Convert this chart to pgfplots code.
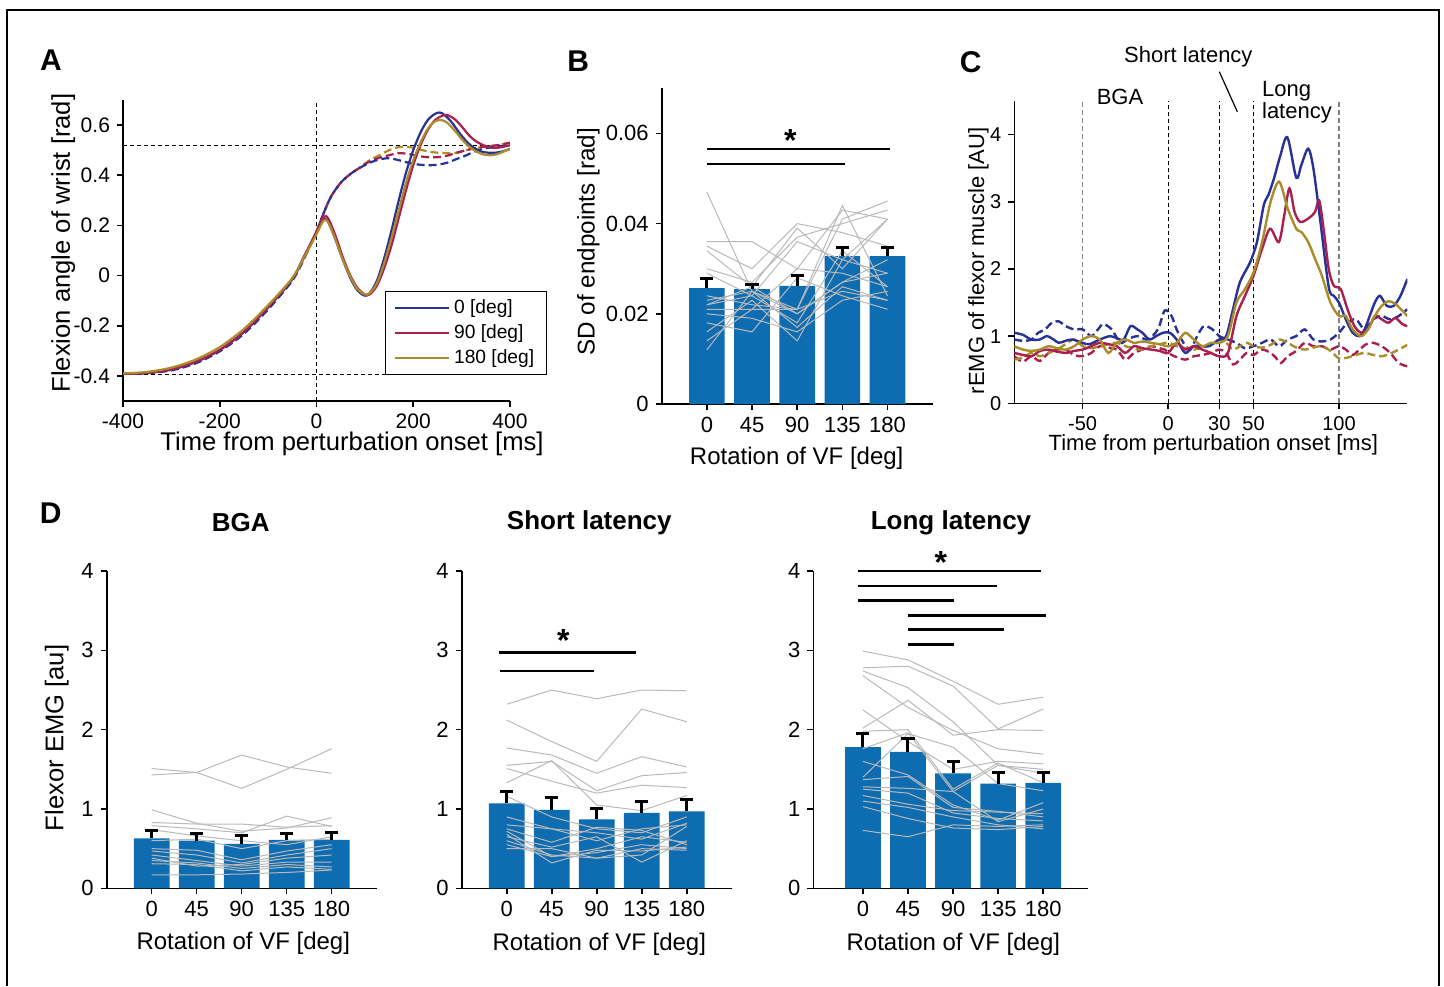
\documentclass[border=0pt]{standalone}
\usepackage{fontspec}
\setmainfont{Liberation Sans}
\usepackage{pgfplots}
\pgfplotsset{compat=1.18}

\definecolor{barblue}{RGB}{14,108,176}
\definecolor{cblue}{RGB}{40,50,150}
\definecolor{cred}{RGB}{170,30,80}
\definecolor{cgold}{RGB}{170,140,40}
\definecolor{subjgray}{RGB}{185,185,185}

\newcommand{\fs}[1]{\fontsize{#1}{#1}\selectfont}
% one grey line per subject
\newcommand{\subj}[5]{\addplot[subjgray, line width=0.5pt, no markers] coordinates {(0,#1)(1,#2)(2,#3)(3,#4)(4,#5)};}
% error bar: x, bar top, error top, cap left, cap right
\newcommand{\ebar}[5]{%
  \addplot[black, line width=1.5pt, no markers, forget plot] coordinates {(#1,#2)(#1,#3)};
  \addplot[black, line width=1.5pt, no markers, forget plot] coordinates {(#4,#3)(#5,#3)};}

\pgfplotsset{
  panel/.style={
    scale only axis, anchor=south west,
    axis x line*=bottom, axis y line*=left,
    axis line style={line width=0.8pt, black, -},
    tick align=outside, major tick length=3pt,
    tick style={line width=0.8pt, black},
    tick label style={font=\fs{11}},
    scaled y ticks=false, scaled x ticks=false,
  },
  barpanel/.style={panel, xmin=-1, xmax=5, xtick={0,...,4},
    xticklabels={0,45,90,135,180}, clip=false},
  bars/.style={ybar, bar width=17.85pt, fill=barblue, draw=none},
  sig/.style={black, line width=1.3pt, no markers},
  refl/.style={black, line width=0.5pt, dash pattern=on 2pt off 1.5pt, no markers, forget plot},
}

\begin{document}
\begin{tikzpicture}
\useasboundingbox (0pt,0pt) rectangle (722pt,-493pt);
\draw[line width=0.6pt] (3.5pt,-493pt) -- (3.5pt,-5pt) -- (719.5pt,-5pt) -- (719.5pt,-493pt);

% ---------------- A ----------------
\begin{axis}[panel, at={(61.5pt,-200.5pt)}, width=193.5pt, height=150.5pt,
  xmin=-400, xmax=400, ymin=-0.5, ymax=0.7,
  xtick={-400,-200,0,200,400}, xticklabels={-400,-200,0,200,400},
  ytick={-0.4,-0.2,0,0.2,0.4,0.6}, yticklabels={-0.4,-0.2,0,0.2,0.4,0.6},
  tick label style={font=\fs{10.5}},
  legend style={at={(1.095,0.086)}, anchor=south east, draw=black, line width=0.6pt,
    font=\fs{9.6}, inner xsep=4pt, inner ysep=2pt, row sep=0pt},
  legend cell align=left,
  legend image code/.code={\draw[#1, line width=1.1pt] (0pt,0pt) -- (27pt,0pt);},
  every axis plot/.append style={line width=1.1pt},
]
\addplot[refl] coordinates {(-400,-0.395)(400,-0.395)};
\addplot[refl] coordinates {(-400,0.52)(400,0.52)};
\addplot[refl] coordinates {(0,-0.5)(0,0.7)};
% dashed (no perturbation)
\addplot[cgold, dash pattern=on 4pt off 2pt, smooth, forget plot] coordinates {(0,0.175)(15,0.25)(30,0.315)(50,0.37)(70,0.405)(90,0.432)(110,0.46)(130,0.48)(150,0.5)(170,0.512)(190,0.513)(210,0.505)(230,0.495)(250,0.49)(270,0.488)(290,0.49)(310,0.5)(330,0.508)(350,0.515)(375,0.52)(400,0.53)};
\addplot[cred, dash pattern=on 4pt off 2pt, smooth, forget plot] coordinates {(0,0.175)(15,0.25)(30,0.315)(50,0.37)(70,0.405)(90,0.43)(110,0.455)(130,0.47)(150,0.48)(170,0.488)(190,0.485)(210,0.477)(230,0.472)(250,0.472)(270,0.478)(290,0.49)(310,0.5)(330,0.51)(350,0.515)(375,0.52)(400,0.53)};
\addplot[cblue, dash pattern=on 4pt off 2pt, smooth, forget plot] coordinates {(-400,-0.392)(-350,-0.389)(-300,-0.378)(-250,-0.35)(-200,-0.302)(-150,-0.232)(-100,-0.135)(-50,-0.02)(-25,0.07)(0,0.175)(15,0.25)(30,0.315)(50,0.37)(70,0.405)(90,0.43)(110,0.45)(130,0.463)(150,0.468)(170,0.46)(190,0.45)(210,0.443)(230,0.44)(250,0.442)(270,0.45)(290,0.465)(310,0.48)(330,0.497)(350,0.508)(375,0.515)(400,0.52)};
% solid (perturbed)
\addplot[cblue, smooth] coordinates {(-400,-0.392)(-350,-0.388)(-300,-0.375)(-250,-0.345)(-200,-0.297)(-150,-0.225)(-100,-0.127)(-50,-0.015)(-25,0.075)(0,0.17)(15,0.225)(25,0.21)(40,0.14)(55,0.06)(70,-0.01)(85,-0.06)(100,-0.08)(110,-0.07)(125,-0.02)(140,0.07)(155,0.18)(170,0.3)(185,0.41)(200,0.5)(215,0.57)(230,0.62)(245,0.645)(255,0.65)(265,0.64)(280,0.61)(295,0.57)(310,0.535)(325,0.51)(340,0.495)(355,0.49)(370,0.49)(385,0.495)(400,0.505)};
\addlegendentry{0 [deg]}
\addplot[cred, smooth] coordinates {(-400,-0.392)(-350,-0.388)(-300,-0.374)(-250,-0.344)(-200,-0.296)(-150,-0.224)(-100,-0.126)(-50,-0.012)(-25,0.08)(0,0.175)(15,0.235)(25,0.225)(40,0.155)(55,0.07)(70,0.0)(85,-0.05)(100,-0.075)(110,-0.075)(125,-0.04)(140,0.03)(155,0.12)(170,0.23)(185,0.34)(200,0.44)(215,0.52)(230,0.58)(245,0.62)(260,0.637)(270,0.64)(285,0.625)(300,0.595)(315,0.56)(330,0.535)(345,0.52)(360,0.51)(375,0.51)(390,0.515)(400,0.52)};
\addlegendentry{90 [deg]}
\addplot[cgold, smooth] coordinates {(-400,-0.39)(-350,-0.384)(-300,-0.367)(-250,-0.335)(-200,-0.285)(-150,-0.213)(-100,-0.118)(-50,-0.01)(-25,0.075)(0,0.165)(15,0.22)(25,0.21)(40,0.14)(55,0.06)(70,-0.005)(85,-0.055)(100,-0.075)(110,-0.07)(125,-0.03)(140,0.05)(155,0.15)(170,0.26)(185,0.37)(200,0.46)(215,0.53)(230,0.585)(245,0.615)(258,0.62)(270,0.61)(285,0.58)(300,0.545)(315,0.515)(330,0.495)(345,0.483)(360,0.48)(375,0.485)(390,0.497)(400,0.505)};
\addlegendentry{180 [deg]}
\end{axis}

% ---------------- B ----------------
\begin{axis}[barpanel, at={(330.85pt,-202pt)}, width=135.5pt, height=157.85pt,
  ymin=0, ymax=0.07, ytick={0,0.02,0.04,0.06}, yticklabels={0,0.02,0.04,0.06}]
\addplot[bars] coordinates {(0,0.0257)(1,0.0255)(2,0.0262)(3,0.0328)(4,0.0328)};
\subj{0.047}{0.025}{0.021}{0.041}{0.045}
\subj{0.036}{0.036}{0.030}{0.043}{0.041}
\subj{0.035}{0.030}{0.040}{0.038}{0.035}
\subj{0.034}{0.026}{0.039}{0.030}{0.041}
\subj{0.030}{0.027}{0.037}{0.040}{0.043}
\subj{0.029}{0.024}{0.036}{0.032}{0.029}
\subj{0.024}{0.022}{0.021}{0.044}{0.024}
\subj{0.023}{0.025}{0.020}{0.027}{0.032}
\subj{0.022}{0.024}{0.018}{0.034}{0.026}
\subj{0.021}{0.021}{0.021}{0.025}{0.023}
\subj{0.020}{0.019}{0.016}{0.023}{0.025}
\subj{0.018}{0.016}{0.028}{0.024}{0.021}
\subj{0.016}{0.023}{0.014}{0.032}{0.041}
\subj{0.014}{0.021}{0.030}{0.029}{0.026}
\subj{0.012}{0.025}{0.017}{0.026}{0.023}
\subj{0.022}{0.026}{0.020}{0.027}{0.029}
\ebar{0}{0.0257}{0.0279}{-0.145}{0.145}
\ebar{1}{0.0255}{0.0266}{0.855}{1.145}
\ebar{2}{0.0262}{0.0284}{1.855}{2.145}
\ebar{3}{0.0328}{0.0347}{2.855}{3.145}
\ebar{4}{0.0328}{0.0348}{3.855}{4.145}
\addplot[sig] coordinates {(0,0.0565)(4.05,0.0565)};
\addplot[sig] coordinates {(0,0.0532)(3.05,0.0532)};
\node[font=\bfseries\fs{16}] at (axis cs:1.85,0.0585) {*};
\end{axis}

% ---------------- C ----------------
\begin{axis}[panel, at={(507.15pt,-201.65pt)}, width=196.5pt, height=151.15pt,
  xmin=-90, xmax=140, ymin=0, ymax=4.5,
  xtick={-50,0,30,50,100}, xticklabels={-50,0,30,50,100},
  ytick={0,1,2,3,4}, yticklabels={0,1,2,3,4},
  tick label style={font=\fs{10}},
  every axis plot/.append style={line width=1.2pt, no markers},
]
\addplot[gray, line width=0.7pt, dash pattern=on 2.5pt off 1.5pt] coordinates {(-50,0)(-50,4.5)};
\addplot[gray, line width=0.7pt, dash pattern=on 2.5pt off 1.5pt] coordinates {(100,0)(100,4.5)};
\addplot[refl] coordinates {(0,0)(0,4.5)};
\addplot[refl] coordinates {(30,0)(30,4.5)};
\addplot[refl] coordinates {(50,0)(50,4.5)};
% dashed traces
\addplot[cblue, dash pattern=on 4pt off 2pt, smooth] coordinates {(-90,0.95)(-85,0.93)(-80,0.95)(-76,1.05)(-72,1.1)(-68,1.2)(-64,1.22)(-60,1.15)(-55,1.1)(-50,1.1)(-45,1.0)(-41,1.1)(-38,1.18)(-33,1.1)(-28,0.9)(-24,0.95)(-18,1.0)(-12,0.95)(-6,1.1)(-2,1.38)(2,1.3)(5,1.1)(9,0.9)(13,0.8)(17,1.0)(21,1.15)(26,1.1)(30,1.0)(35,0.95)(40,0.9)(45,0.82)(50,0.85)(55,0.9)(60,0.95)(65,0.85)(70,0.95)(75,1.0)(80,1.1)(85,0.95)(90,0.92)(95,0.95)(100,1.05)(105,1.2)(110,1.25)(115,1.1)(120,1.25)(125,1.3)(130,1.25)(135,1.3)(140,1.4)};
\addplot[cred, dash pattern=on 4pt off 2pt, smooth] coordinates {(-90,0.7)(-85,0.62)(-80,0.7)(-75,0.63)(-70,0.75)(-65,0.8)(-60,0.8)(-55,0.72)(-50,0.7)(-45,0.75)(-40,0.85)(-35,0.83)(-30,0.8)(-25,0.65)(-20,0.75)(-15,0.8)(-10,0.85)(-5,0.82)(-2,0.8)(2,0.72)(6,0.68)(10,0.65)(15,0.7)(20,0.72)(25,0.75)(30,0.8)(34,0.75)(38,0.58)(42,0.65)(46,0.75)(50,0.72)(55,0.8)(60,0.75)(63,0.68)(66,0.6)(70,0.7)(75,0.78)(80,0.9)(85,0.85)(90,0.85)(95,0.8)(100,0.85)(104,0.8)(108,0.72)(112,0.8)(116,0.88)(120,0.9)(125,0.85)(130,0.75)(135,0.6)(140,0.55)};
\addplot[cgold, dash pattern=on 4pt off 2pt, smooth] coordinates {(-90,0.65)(-85,0.68)(-80,0.75)(-75,0.7)(-70,0.75)(-65,0.8)(-60,0.88)(-55,0.95)(-50,0.85)(-45,0.82)(-40,0.85)(-35,0.88)(-30,0.9)(-25,0.85)(-20,0.82)(-15,0.8)(-10,0.85)(-5,0.88)(0,0.9)(5,0.85)(10,0.82)(15,0.8)(20,0.83)(25,0.87)(30,0.95)(34,0.9)(38,0.8)(42,0.85)(46,0.9)(50,0.85)(55,0.83)(60,0.87)(65,0.95)(70,0.9)(75,0.83)(80,0.8)(85,0.83)(90,0.85)(95,0.78)(100,0.67)(105,0.68)(110,0.72)(115,0.75)(120,0.72)(125,0.7)(130,0.74)(135,0.8)(140,0.87)};
% solid traces
\addplot[cblue, smooth] coordinates {(-90,1.05)(-85,1.02)(-80,0.95)(-75,0.95)(-71,1.0)(-67,0.95)(-64,0.9)(-60,0.93)(-56,0.95)(-50,0.9)(-46,0.88)(-40,0.95)(-34,1.0)(-30,0.97)(-26,0.95)(-22,1.15)(-18,1.1)(-15,1.05)(-11,0.95)(-7,1.0)(-3,1.05)(1,1.05)(5,0.95)(10,0.75)(15,0.85)(20,0.85)(24,0.85)(30,0.95)(34,1.0)(38,1.4)(42,1.8)(48,2.1)(52,2.4)(56,2.95)(58.7,3.1)(62,3.35)(65.5,3.67)(69.8,3.96)(75,3.36)(78,3.55)(82,3.79)(85,3.5)(89,2.73)(94,1.73)(97,1.6)(100,1.5)(104,1.25)(108,1.05)(112,1.0)(115,1.1)(118,1.3)(121,1.5)(124,1.6)(128,1.45)(132,1.45)(136,1.6)(140,1.85)};
\addplot[cred, smooth] coordinates {(-90,0.75)(-85,0.72)(-80,0.7)(-75,0.78)(-70,0.8)(-65,0.77)(-60,0.75)(-55,0.78)(-50,0.8)(-45,0.85)(-40,0.9)(-35,0.88)(-30,0.85)(-25,0.75)(-20,0.85)(-15,0.82)(-10,0.8)(-5,0.78)(0,0.75)(5,0.9)(10,0.8)(15,0.85)(20,0.8)(25,0.75)(30,0.7)(35,0.75)(40,1.3)(45,1.6)(50,1.9)(55,2.3)(59.7,2.6)(64.8,2.4)(68,2.8)(71,3.2)(74,2.85)(77.3,2.7)(82,2.75)(86,2.85)(88.4,3.02)(91,2.6)(94,2.0)(97,1.75)(101,1.7)(105,1.4)(109,1.15)(113,1.05)(117,1.1)(121,1.3)(125,1.25)(129,1.2)(133,1.27)(137,1.18)(140,1.15)};
\addplot[cgold, smooth] coordinates {(-90,0.85)(-85,0.8)(-80,0.78)(-75,0.8)(-70,0.85)(-65,0.82)(-60,0.8)(-55,0.85)(-50,0.95)(-45,1.0)(-40,0.95)(-35,0.75)(-30,0.9)(-25,0.95)(-20,0.9)(-15,0.92)(-10,0.9)(-5,0.88)(0,0.85)(5,0.9)(10,1.05)(15,0.95)(20,0.85)(25,0.9)(30,0.9)(35,1.0)(40,1.5)(45,1.7)(50,1.95)(55,2.4)(60,3.0)(65,3.3)(70,2.9)(75,2.6)(78,2.55)(82,2.4)(86,2.15)(90,1.9)(95,1.5)(100,1.3)(104,1.3)(108,1.1)(113,1.0)(117,1.1)(121,1.3)(125,1.45)(129,1.52)(133,1.48)(137,1.38)(140,1.3)};
\end{axis}

% ---------------- D ----------------
\begin{axis}[barpanel, at={(53.35pt,-444.15pt)}, width=135pt, height=158.65pt,
  ymin=0, ymax=4, ytick={0,1,2,3,4}, yticklabels={0,1,2,3,4}]
\addplot[bars] coordinates {(0,0.63)(1,0.60)(2,0.56)(3,0.61)(4,0.61)};
\subj{1.51}{1.46}{1.68}{1.53}{1.45}
\subj{1.43}{1.46}{1.26}{1.50}{1.76}
\subj{0.99}{0.82}{0.72}{0.76}{0.89}
\subj{0.83}{0.81}{0.81}{0.77}{0.79}
\subj{0.79}{0.75}{0.70}{0.91}{0.78}
\subj{0.74}{0.66}{0.60}{0.55}{0.65}
\subj{0.60}{0.62}{0.50}{0.60}{0.62}
\subj{0.50}{0.48}{0.36}{0.47}{0.55}
\subj{0.47}{0.42}{0.32}{0.42}{0.50}
\subj{0.42}{0.35}{0.28}{0.33}{0.33}
\subj{0.38}{0.28}{0.30}{0.38}{0.42}
\subj{0.35}{0.32}{0.25}{0.30}{0.27}
\subj{0.31}{0.30}{0.22}{0.27}{0.24}
\subj{0.17}{0.17}{0.18}{0.20}{0.23}
\ebar{0}{0.63}{0.727}{-0.145}{0.145}
\ebar{1}{0.60}{0.693}{0.855}{1.145}
\ebar{2}{0.56}{0.672}{1.855}{2.145}
\ebar{3}{0.61}{0.693}{2.855}{3.145}
\ebar{4}{0.61}{0.706}{3.855}{4.145}
\end{axis}

\begin{axis}[barpanel, at={(230.85pt,-444.15pt)}, width=135pt, height=158.65pt,
  ymin=0, ymax=4, ytick={0,1,2,3,4}, yticklabels={0,1,2,3,4}]
\addplot[bars] coordinates {(0,1.07)(1,0.99)(2,0.87)(3,0.95)(4,0.97)};
\subj{2.32}{2.50}{2.39}{2.50}{2.49}
\subj{2.12}{1.85}{1.60}{2.26}{2.10}
\subj{1.77}{1.68}{1.45}{1.66}{1.53}
\subj{1.55}{1.60}{1.23}{1.42}{1.46}
\subj{1.51}{1.35}{1.20}{1.30}{1.27}
\subj{1.33}{1.61}{1.05}{0.98}{1.17}
\subj{1.16}{0.90}{0.75}{0.70}{0.90}
\subj{0.90}{0.75}{0.70}{0.62}{0.82}
\subj{0.80}{0.75}{0.60}{0.75}{0.80}
\subj{0.75}{0.58}{0.77}{0.73}{0.55}
\subj{0.72}{0.40}{0.50}{0.65}{0.58}
\subj{0.68}{0.32}{0.48}{0.47}{0.52}
\subj{0.65}{0.52}{0.65}{0.33}{0.60}
\subj{0.60}{0.42}{0.38}{0.50}{0.48}
\subj{0.55}{0.40}{0.45}{0.55}{0.50}
\subj{0.50}{0.50}{0.38}{0.42}{0.78}
\ebar{0}{1.07}{1.22}{-0.145}{0.145}
\ebar{1}{0.99}{1.15}{0.855}{1.145}
\ebar{2}{0.87}{1.01}{1.855}{2.145}
\ebar{3}{0.95}{1.10}{2.855}{3.145}
\ebar{4}{0.97}{1.12}{3.855}{4.145}
\addplot[sig] coordinates {(-0.17,2.97)(2.87,2.97)};
\addplot[sig] coordinates {(-0.15,2.74)(1.95,2.74)};
\node[font=\bfseries\fs{16}] at (axis cs:1.26,3.12) {*};
\end{axis}

\begin{axis}[barpanel, at={(406.65pt,-444.15pt)}, width=137.5pt, height=158.65pt,
  xmin=-1.1, ymin=0, ymax=4, ytick={0,1,2,3,4}, yticklabels={0,1,2,3,4}]
\addplot[bars] coordinates {(0,1.78)(1,1.72)(2,1.45)(3,1.32)(4,1.33)};
\subj{2.99}{2.88}{2.61}{2.32}{2.41}
\subj{2.78}{2.80}{2.55}{2.01}{2.26}
\subj{2.74}{2.53}{2.10}{1.55}{1.50}
\subj{2.68}{2.28}{1.99}{1.76}{1.69}
\subj{2.25}{1.85}{1.50}{1.60}{1.57}
\subj{2.02}{2.37}{1.93}{2.00}{1.99}
\subj{1.98}{2.00}{1.25}{1.58}{1.33}
\subj{1.76}{1.96}{1.22}{1.55}{1.45}
\subj{1.60}{1.43}{1.05}{0.86}{1.08}
\subj{1.40}{1.95}{1.78}{1.32}{1.23}
\subj{1.37}{1.41}{1.02}{0.97}{0.90}
\subj{1.28}{1.26}{1.22}{0.84}{1.00}
\subj{1.25}{1.20}{0.95}{0.88}{0.85}
\subj{1.17}{1.06}{0.98}{0.96}{0.94}
\subj{1.10}{1.02}{0.90}{0.80}{0.75}
\subj{1.03}{0.88}{0.76}{0.74}{0.78}
\subj{0.73}{0.65}{0.80}{0.78}{0.80}
\ebar{0}{1.78}{1.95}{-0.145}{0.145}
\ebar{1}{1.72}{1.89}{0.855}{1.145}
\ebar{2}{1.45}{1.60}{1.855}{2.145}
\ebar{3}{1.32}{1.46}{2.855}{3.145}
\ebar{4}{1.33}{1.46}{3.855}{4.145}
\addplot[sig] coordinates {(-0.1,4.0)(3.96,4.0)};
\addplot[sig] coordinates {(-0.1,3.81)(2.97,3.81)};
\addplot[sig] coordinates {(-0.1,3.63)(2.02,3.63)};
\addplot[sig] coordinates {(1.0,3.44)(4.06,3.44)};
\addplot[sig] coordinates {(1.0,3.26)(3.12,3.26)};
\addplot[sig] coordinates {(1.0,3.07)(2.02,3.07)};
\node[font=\bfseries\fs{16}] at (axis cs:1.73,4.11) {*};
\end{axis}

% ---------------- texts ----------------
\node[font=\bfseries\fs{15}] at (25.5pt,-30pt) {A};
\node[font=\bfseries\fs{15}] at (289.15pt,-30.35pt) {B};
\node[font=\bfseries\fs{15}] at (485.35pt,-30.85pt) {C};
\node[font=\bfseries\fs{15}] at (25.35pt,-256.65pt) {D};

\node[font=\fs{12.8}, rotate=90] at (31.65pt,-121.5pt) {Flexion angle of wrist [rad]};
\node[font=\fs{12.8}] at (176pt,-222pt) {Time from perturbation onset [ms]};
\node[font=\fs{12.1}, rotate=90] at (294.15pt,-120.85pt) {SD of endpoints [rad]};
\node[font=\fs{12}] at (398.35pt,-229.15pt) {Rotation of VF [deg]};
\node[font=\fs{11}, rotate=90] at (489.15pt,-130.5pt) {rEMG of flexor muscle [AU]};
\node[font=\fs{11}] at (606.65pt,-222.5pt) {Time from perturbation onset [ms]};

\node[font=\fs{11}] at (560pt,-48.35pt) {BGA};
\node[font=\fs{11}] at (594.15pt,-28.65pt) {Short latency};
\node[font=\fs{11}, anchor=west, align=left, inner sep=0pt] at (630.85pt,-51.25pt) {\fontsize{11}{9.2}\selectfont Long\\latency};
\draw[line width=0.6pt] (609.65pt,-35.85pt) -- (618.65pt,-55.85pt);

\node[font=\fs{12.8}, rotate=90] at (28.35pt,-369pt) {Flexor EMG [au]};
\node[font=\fs{12}] at (121.65pt,-471.65pt) {Rotation of VF [deg]};
\node[font=\fs{12}] at (299.65pt,-472pt) {Rotation of VF [deg]};
\node[font=\fs{12}] at (476.65pt,-472pt) {Rotation of VF [deg]};
\node[font=\bfseries\fs{13}] at (120.35pt,-261.5pt) {BGA};
\node[font=\bfseries\fs{13}] at (294.65pt,-261.5pt) {Short latency};
\node[font=\bfseries\fs{13}] at (475.5pt,-261.5pt) {Long latency};
\end{tikzpicture}
\end{document}
